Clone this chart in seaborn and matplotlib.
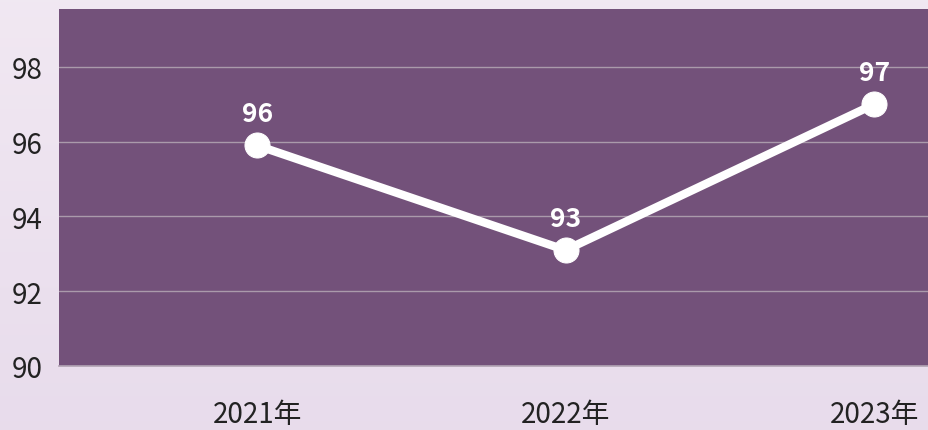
import numpy as np
import pandas as pd
import matplotlib.pyplot as plt
import seaborn as sns

years = ["2021年", "2022年", "2023年"]
scores = [95.9, 93.1, 97.0]
labels = ["96", "93", "97"]
y_ticks = [90, 92, 94, 96, 98]

sns.set_theme(style="white")
plt.rcParams['font.family'] = ['Noto Sans CJK SC', 'DejaVu Sans']

df = pd.DataFrame({"pos": range(len(years)), "year": years, "score": scores})

fig = plt.figure(figsize=(9.29, 4.31), dpi=100)

# soft lavender gradient behind everything
bg = fig.add_axes([0, 0, 1, 1], zorder=-1)
grad = np.linspace(0, 1, 256).reshape(-1, 1)
top = np.array([0.945, 0.910, 0.950])
bottom = np.array([0.910, 0.863, 0.925])
img = top + (bottom - top) * grad[..., None]
bg.imshow(img, aspect="auto", extent=[0, 1, 0, 1])
bg.axis("off")

ax = fig.add_axes([59 / 929, 64 / 431, 1 - 59 / 929, 357 / 431])
ax.set_facecolor("#73517a")

sns.lineplot(data=df, x="pos", y="score", ax=ax, color="white",
             linewidth=6, marker="o", markersize=18,
             markeredgecolor="white", zorder=3)

for x, y, t in zip(df["pos"], df["score"], labels):
    ax.annotate(t, (x, y), xytext=(0, 23), textcoords="offset points",
                ha="center", va="center", color="white",
                fontsize=19, fontweight="bold", zorder=4)

ax.set_ylim(90, 99.55)
ax.set_xlim(-0.642, 2.178)
ax.set_yticks(y_ticks)
ax.set_xticks(df["pos"])
ax.set_xticklabels(years)
ax.yaxis.grid(True, color="#aa9aab", linewidth=1)
ax.set_axisbelow(True)
ax.tick_params(axis="y", length=0, pad=12, labelsize=20, labelcolor="#222222")
ax.tick_params(axis="x", length=0, pad=24, labelsize=20, labelcolor="#222222")
for lbl in ax.get_xticklabels() + ax.get_yticklabels():
    lbl.set_fontweight("light")
ax.set_xlabel("")
ax.set_ylabel("")
for side in ["top", "right", "left"]:
    ax.spines[side].set_visible(False)
ax.spines["bottom"].set_color("#b0a2b2")
ax.spines["bottom"].set_linewidth(1.2)

fig.savefig("out.png", dpi=100)
